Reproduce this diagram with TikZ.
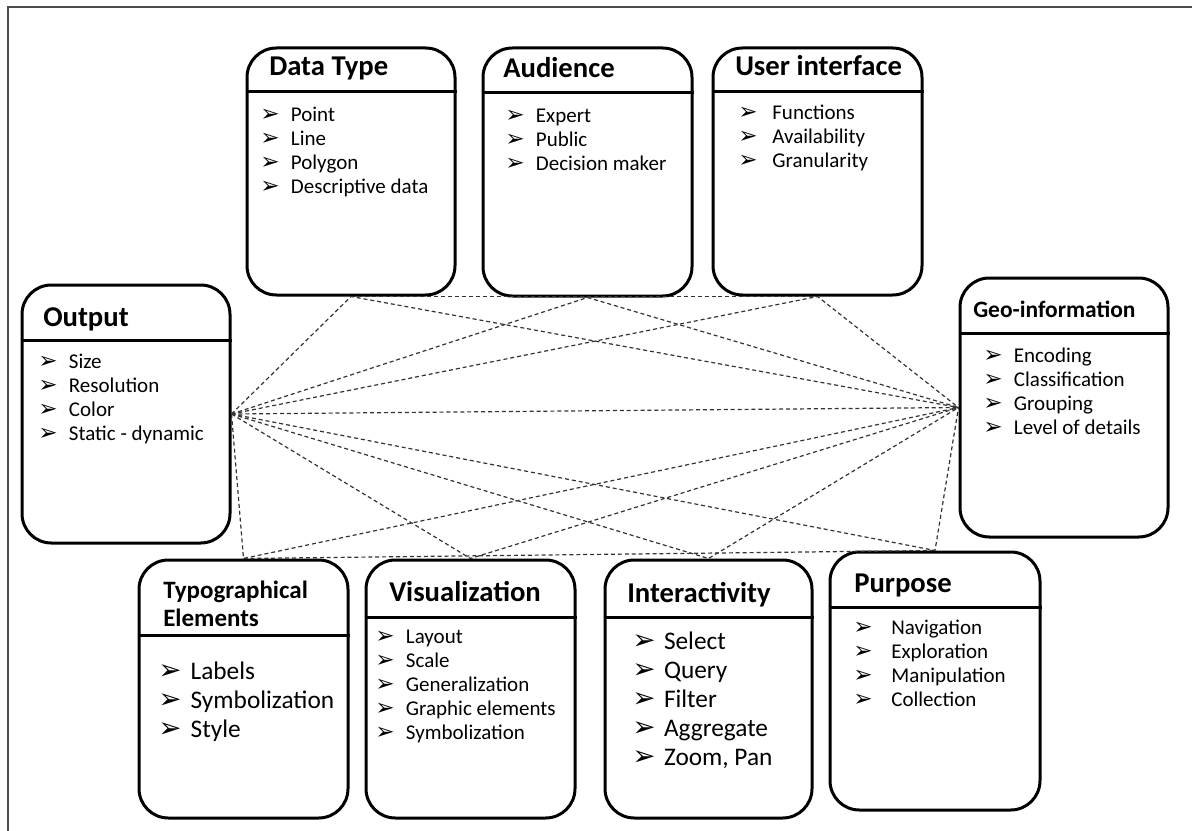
\documentclass[tikz,border=0pt]{standalone}
\usepackage{fontspec}
\setmainfont{Carlito}
\newfontfamily\dejavu[Scale=1.1]{DejaVu Sans}
\usetikzlibrary{positioning,fit}
\newcommand{\bul}[1][23pt]{\makebox[#1][l]{\dejavu ➢}}

\begin{document}
\begin{tikzpicture}[
x = 0.75pt, y = -0.75pt,
box/.style = {
	draw, line width = 2.25pt, rounded corners = 22pt, inner sep = 0pt
},
bar/.style = {
	line width = 2.25pt
},
title/.style = {
	font = \fontsize{21.5}{24}\selectfont\bfseries, inner sep = 0pt, anchor = base west
},
items/.style = {
	font = \fontsize{15.75}{18}\selectfont, align = left, inner sep = 0pt, anchor = north west
},
big/.style = {
	font = \fontsize{19}{21.75}\selectfont
},
link/.style = {
	dash pattern = on 3pt off 2.2pt, line width = 0.9pt, black!80
}
]
\useasboundingbox (0,0) rectangle (1192,831);
\draw[line width = 1.2pt, black!70] (1192,7) -- (8,7) -- (8,831);

% boxes
\node[box, fit={(247,48) (455,295)}]	(dtype)	{};
\node[box, fit={(483,48) (692,296)}]	(aud)	{};
\node[box, fit={(713,48) (922,295)}]	(ui)	{};
\node[box, fit={(22,285) (230,543)}]	(outp)	{};
\node[box, fit={(960,278) (1168,537)}]	(geo)	{};
\node[box, fit={(139,560) (348,818)}]	(typo)	{};
\node[box, fit={(366,560) (575,818)}]	(vis)	{};
\node[box, fit={(605,560) (812,818)}]	(inter)	{};
\node[box, fit={(830,552) (1040,810)}]	(purp)	{};

\draw[bar] (dtype.west |- 0,92) -- (dtype.east |- 0,92);
\draw[bar] (aud.west |- 0,93) -- (aud.east |- 0,93);
\draw[bar] (ui.west |- 0,92) -- (ui.east |- 0,92);
\draw[bar] (outp.west |- 0,340) -- (outp.east |- 0,340);
\draw[bar] (geo.west |- 0,333) -- (geo.east |- 0,333);
\draw[bar] (typo.west |- 0,635) -- (typo.east |- 0,635);
\draw[bar] (vis.west |- 0,617) -- (vis.east |- 0,617);
\draw[bar] (inter.west |- 0,617) -- (inter.east |- 0,617);
\draw[bar] (purp.west |- 0,607) -- (purp.east |- 0,607);

% titles
\node[title] (dtypeT)	at (269,76)	{Data Type};
\node[title] (audT)	at (503,78)	{Audience};
\node[title] (uiT)	at (735,76)	{User interface};
\node[title] (outpT)	at (43,326)	{Output};
\node[title, font = \fontsize{17.6}{20}\selectfont\bfseries] (geoT) at (973,317) {Geo-information};
\node[title, font = \fontsize{18.75}{21}\selectfont\bfseries, align = left, anchor = north west] (typoT) at (163,581) {Typographical\\Elements};
\node[title] (visT)	at (389,601)	{Visualization};
\node[title] (interT)	at (627,602)	{Interactivity};
\node[title] (purpT)	at (854,592)	{Purpose};

% lists
\node[items] (dtypeL)	at (260,107)	{\bul Point\\\bul Line\\\bul Polygon\\\bul Descriptive data};
\node[items] (audL)	at (505,109)	{\bul Expert\\\bul Public\\\bul Decision maker};
\node[items] (uiL)	at (738,105)	{\bul[22pt] Functions\\\bul[22pt] Availability\\\bul[22pt] Granularity};
\node[items] (outpL)	at (38,354)	{\bul Size\\\bul Resolution\\\bul Color\\\bul Static - dynamic};
\node[items] (geoL)	at (983,348)	{\bul Encoding\\\bul Classification\\\bul Grouping\\\bul Level of details};
\node[items, big] (typoL) at (158,662)	{\bul[20pt] Labels\\\bul[20pt] Symbolization\\\bul[20pt] Style};
\node[items] (visL)	at (375,630)	{\bul Layout\\\bul Scale\\\bul Generalization\\\bul Graphic elements\\\bul Symbolization};
\node[items, big] (interL) at (632,632) {\bul[19.5pt] Select\\\bul[19.5pt] Query\\\bul[19.5pt] Filter\\\bul[19.5pt] Aggregate\\\bul[19.5pt] Zoom, Pan};
\node[items] (purpL)	at (853,620)	{\bul[25pt] Navigation\\\bul[25pt] Exploration\\\bul[25pt] Manipulation\\\bul[25pt] Collection};

% dashed links
\foreach \n in {dtype, aud, ui}
	\draw[link] (outp.east) -- (\n.south) -- (geo.west);
\foreach \n in {typo, vis, inter, purp}
	\draw[link] (outp.east) -- (\n.north) -- (geo.west);
\draw[link] (outp.east) -- (geo.west);
\draw[link] (dtype.south) -- (ui.south);
\draw[link] (typo.north) -- (purp.north);
\end{tikzpicture}
\end{document}
